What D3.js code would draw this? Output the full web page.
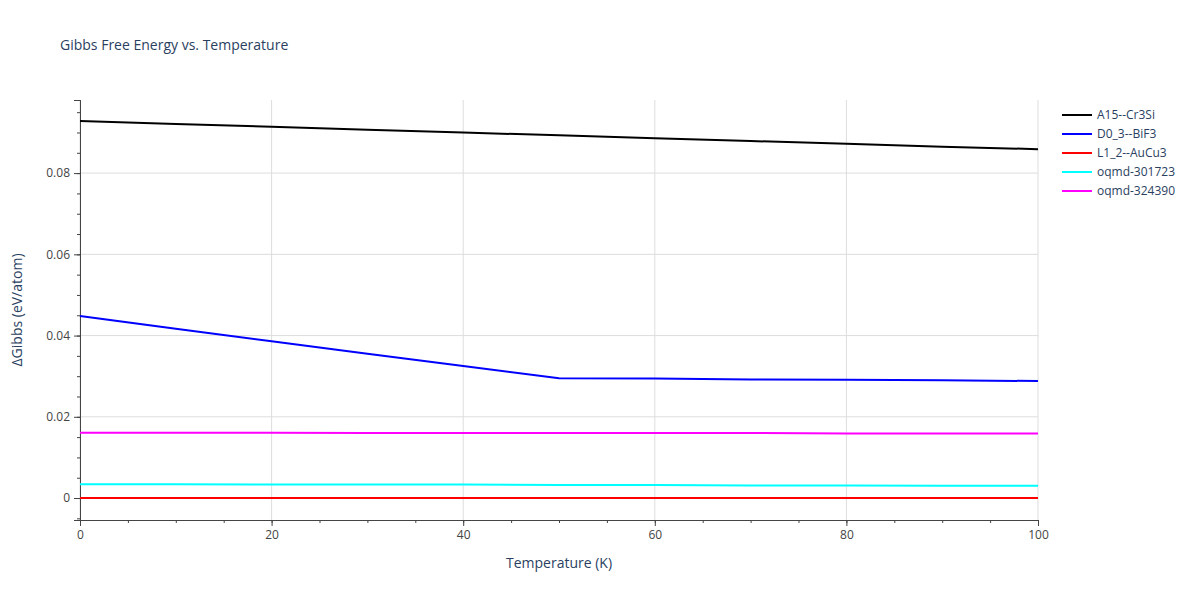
<!DOCTYPE html><html><head><meta charset="utf-8">
<script src="https://cdn.jsdelivr.net/npm/d3@7"></script>
<style>body{margin:0;background:#fff}text{font-family:"Open Sans",sans-serif}</style></head><body>
<svg id="c" width="1200" height="600"></svg>
<script>
const temps=[0,10,20,30,40,50,60,70,80,90,100];
const names=["A15--Cr3Si","D0_3--BiF3","L1_2--AuCu3","oqmd-301723","oqmd-324390"];
const colors=["#000000","#0000ff","#ff0000","#00ffff","#ff00ff"];
const A15=[0.0928,0.0921,0.0914,0.0907,0.0900,0.0893,0.0886,0.0879,0.0872,0.0865,0.0859];
const D03=[0.0448,0.0417,0.0386,0.0355,0.0325,0.0295,0.0294,0.0292,0.0291,0.0290,0.0288];
const L12=[0,0,0,0,0,0,0,0,0,0,0];
const o301723=[0.0034,0.0034,0.0033,0.0033,0.0033,0.0032,0.0032,0.0031,0.0031,0.0030,0.0030];
const o324390=[0.0161,0.0161,0.0161,0.0160,0.0160,0.0160,0.0160,0.0160,0.0159,0.0159,0.0159];
const series=[A15,D03,L12,o301723,o324390];
const xTicks=[0,20,40,60,80,100], yTicks=[0,0.02,0.04,0.06,0.08];
const svg=d3.select("#c");
const L=80,R=1038,T=100,B=520;
const x=d3.scaleLinear().domain([0,100]).range([L,R]);
const y=d3.scaleLinear().domain([-0.00541,0.0980]).range([B,T]);
const g=svg.append("g");
xTicks.forEach(t=>g.append("line").attr("x1",x(t)).attr("x2",x(t)).attr("y1",T).attr("y2",B).attr("stroke","#ddd"));
yTicks.forEach(t=>g.append("line").attr("x1",L).attr("x2",R).attr("y1",y(t)).attr("y2",y(t)).attr("stroke","#ddd"));
const ax=svg.append("g").attr("transform",`translate(0,${B})`).call(d3.axisBottom(x).tickValues(xTicks).tickSize(6).tickPadding(4));
const axm=svg.append("g").attr("transform",`translate(0,${B})`).call(d3.axisBottom(x).tickValues(d3.range(0,101,5)).tickSize(3).tickFormat(""));
const ay=svg.append("g").attr("transform",`translate(${L},0)`).call(d3.axisLeft(y).tickValues(yTicks).tickSize(6).tickPadding(4).tickFormat(d=>d===0?"0":d3.format(".2f")(d)));
const aym=svg.append("g").attr("transform",`translate(${L},0)`).call(d3.axisLeft(y).tickValues(d3.range(-0.005,0.0981,0.005)).tickSize(3).tickFormat(""));
[ax,axm,ay,aym].forEach(a=>{a.selectAll("path,line").attr("stroke","#444");a.selectAll("text").attr("fill","#444").style("font-size","12px");});
const line=d3.line().x((d,i)=>x(temps[i])).y(d=>y(d));
[2,3,4,1,0].forEach(k=>svg.append("path").attr("d",line(series[k])).attr("fill","none").attr("stroke",colors[k]).attr("stroke-width",2));
svg.append("text").attr("x",60).attr("y",50).text("Gibbs Free Energy vs. Temperature").attr("fill","#2a3f5f").style("font-size","14px");
svg.append("text").attr("x",(L+R)/2).attr("y",568).attr("text-anchor","middle").text("Temperature (K)").attr("fill","#2a3f5f").style("font-size","14px");
svg.append("text").attr("transform",`translate(22,${(T+B)/2}) rotate(-90)`).attr("text-anchor","middle").text("ΔGibbs (eV/atom)").attr("fill","#2a3f5f").style("font-size","14px");
names.forEach((n,i)=>{const yy=115+i*19;
svg.append("line").attr("x1",1062).attr("x2",1092).attr("y1",yy).attr("y2",yy).attr("stroke",colors[i]).attr("stroke-width",2);
svg.append("text").attr("x",1097).attr("y",yy+4).text(n).attr("fill","#2a3f5f").style("font-size","12px");});
</script></body></html>
